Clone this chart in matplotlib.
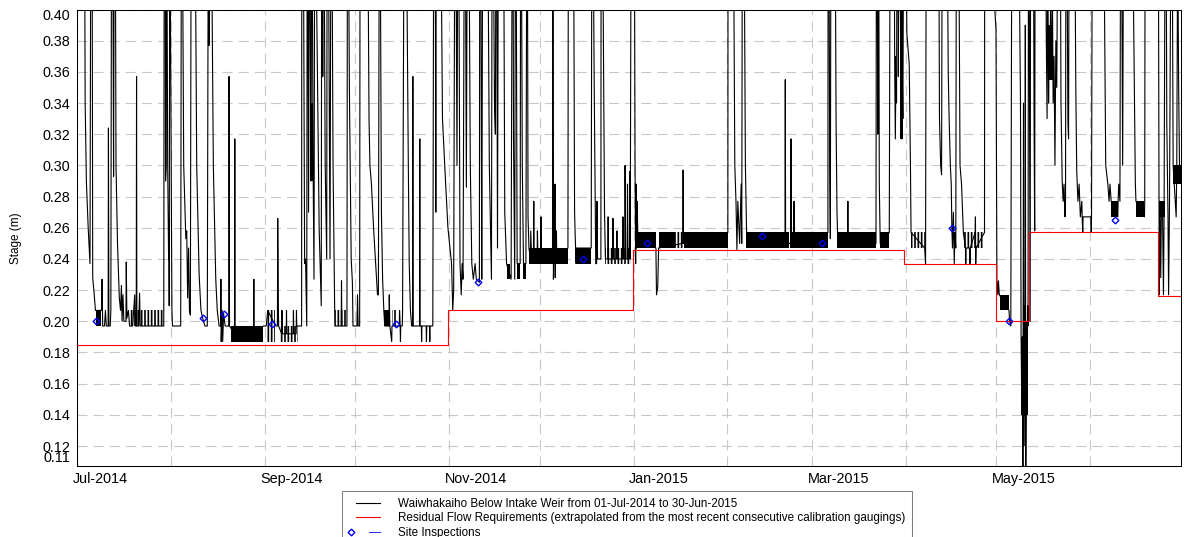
import numpy as np
import pandas as pd
import matplotlib
matplotlib.use('Agg')
import matplotlib.pyplot as plt
import matplotlib.dates as mdates
import matplotlib.transforms as mtransforms
from matplotlib.lines import Line2D
from matplotlib.legend_handler import HandlerBase

plt.rcParams['font.family'] = ['Liberation Sans', 'DejaVu Sans']
plt.rcParams['hatch.linewidth'] = 1.2

START = pd.Timestamp('2014-07-01')

# Stage record, (days since 01-Jul-2014, stage m), one list per month.
# Values above 0.40 are off the chart (flood peaks).
stage_jul = [
    (0.0, 0.55), (1.2, 0.62), (2.3, 0.52), (2.6, 0.34), (3.0, 0.29), (3.6, 0.26), (4.2, 0.237),
    (4.5, 0.50), (4.9, 0.45), (5.1, 0.228), (5.6, 0.217), (6.0, 0.207), (8.0, 0.207),
    (8.2, 0.227), (8.4, 0.197), (9.0, 0.197), (9.3, 0.207), (9.6, 0.197), (10.2, 0.197), (10.3, 0.324),
    (10.45, 0.197), (10.9, 0.197), (11.1, 0.207), (11.4, 0.55), (11.7, 0.48), (12.0, 0.293), (12.2, 0.45),
    (12.5, 0.52), (12.8, 0.30), (13.3, 0.25), (13.9, 0.215), (14.3, 0.207), (14.6, 0.223), (14.8, 0.200),
    (15.1, 0.217), (15.4, 0.200), (16.1, 0.200), (16.2, 0.238), (16.4, 0.202), (16.9, 0.207), (17.3, 0.197),
    (18.3, 0.197), (19.0, 0.217), (19.2, 0.197), (19.5, 0.197), (19.6, 0.357), (19.7, 0.197), (20.3, 0.197),
    (20.6, 0.218), (20.8, 0.197), (28.6, 0.197), (28.8, 0.55), (29.1, 0.45), (29.2, 0.29), (29.4, 0.30),
    (29.5, 0.52), (29.9, 0.30), (30.2, 0.24), (30.3, 0.266), (30.4, 0.21), (30.6, 0.48),
]
stage_aug = [
    (31.3, 0.207), (31.5, 0.197), (34.2, 0.197), (34.5, 0.55), (35.2, 0.30), (35.9, 0.253), (36.2, 0.258),
    (36.5, 0.215), (36.8, 0.247), (37.1, 0.207), (37.4, 0.204), (37.8, 0.60), (38.3, 0.47), (38.7, 0.55),
    (39.5, 0.30), (40.3, 0.23), (40.9, 0.207), (41.5, 0.202), (42.2, 0.197), (43.0, 0.197), (43.4, 0.52),
    (43.6, 0.377), (43.8, 0.50), (44.4, 0.45), (45.0, 0.30), (45.8, 0.227), (46.3, 0.207), (46.9, 0.197),
    (47.4, 0.197), (47.5, 0.227), (47.6, 0.187), (47.9, 0.207), (48.1, 0.187), (48.4, 0.205), (48.9, 0.197),
    (50.1, 0.197), (50.2, 0.357), (50.35, 0.197), (52.0, 0.192), (52.1, 0.317), (52.2, 0.192),
    (58.3, 0.192), (58.4, 0.227), (58.5, 0.19), (61.5, 0.197),
]
stage_sep = [
    (62.5, 0.197), (63.0, 0.207), (65.6, 0.197), (66.2, 0.197), (66.3, 0.266), (66.5, 0.21), (66.6, 0.197),
    (67.6, 0.192), (67.7, 0.207), (67.8, 0.192), (69.1, 0.192), (69.2, 0.207), (69.3, 0.192), (71.4, 0.192),
    (71.5, 0.207), (71.6, 0.192), (72.4, 0.192), (72.5, 0.207), (72.6, 0.197), (74.2, 0.197), (74.3, 0.60),
    (74.8, 0.45), (75.2, 0.237), (75.5, 0.24), (75.8, 0.21), (75.9, 0.197), (76.1, 0.55), (76.5, 0.27),
    (76.8, 0.50), (77.3, 0.29), (77.6, 0.50), (78.0, 0.30), (78.3, 0.227), (78.6, 0.55), (79.2, 0.40),
    (80.0, 0.26), (80.7, 0.21), (80.9, 0.55), (81.2, 0.357), (81.4, 0.55), (82.0, 0.30), (82.5, 0.24),
    (82.7, 0.55), (83.2, 0.40), (83.6, 0.24), (84.0, 0.55), (84.6, 0.30), (85.0, 0.227), (85.2, 0.197),
    (87.3, 0.197), (87.4, 0.226), (87.5, 0.197), (89.2, 0.197), (89.4, 0.55), (90.0, 0.35), (90.6, 0.24),
    (91.0, 0.225), (91.2, 0.197),
]
stage_oct = [
    (92.5, 0.197), (92.7, 0.217), (92.9, 0.197), (93.4, 0.197), (93.6, 0.58), (94.8, 0.50), (95.8, 0.55),
    (96.5, 0.33), (96.8, 0.30), (97.3, 0.288), (98.0, 0.26), (99.3, 0.217), (99.6, 0.217), (100.0, 0.55),
    (100.6, 0.27), (101.0, 0.227), (101.4, 0.207), (101.7, 0.197), (103.1, 0.197), (103.2, 0.217),
    (103.4, 0.197), (104.0, 0.187), (104.1, 0.197), (106.5, 0.197), (106.6, 0.207), (106.8, 0.197),
    (106.9, 0.187), (107.0, 0.197), (107.5, 0.197), (107.6, 0.207), (108.3, 0.58), (108.9, 0.45),
    (109.5, 0.30), (109.8, 0.237), (110.2, 0.207), (110.6, 0.197), (110.9, 0.197), (111.0, 0.357),
    (111.1, 0.197), (113.2, 0.197), (113.3, 0.317), (113.4, 0.197), (113.8, 0.197), (113.9, 0.187),
    (114.0, 0.197), (115.4, 0.197), (115.5, 0.187), (115.6, 0.197), (116.5, 0.197), (116.6, 0.187),
    (116.7, 0.197), (117.6, 0.197), (118.0, 0.55), (118.4, 0.45), (118.6, 0.27), (118.8, 0.55),
    (119.4, 0.58), (120.3, 0.45), (120.8, 0.33), (121.8, 0.29), (122.6, 0.26), (123.8, 0.237),
    (124.2, 0.207), (124.5, 0.22),
]
stage_nov = [
    (125.0, 0.55), (125.6, 0.30), (126.0, 0.55), (126.6, 0.237), (127.0, 0.217), (127.3, 0.237),
    (127.6, 0.227), (128.2, 0.55), (128.7, 0.286), (129.2, 0.58), (130.0, 0.30), (130.5, 0.237),
    (131.0, 0.227), (131.6, 0.237), (132.0, 0.227), (133.0, 0.225), (133.2, 0.58), (133.6, 0.36),
    (133.8, 0.227), (134.2, 0.55), (135.0, 0.40), (135.5, 0.55), (136.3, 0.30), (137.0, 0.227),
    (137.3, 0.55), (138.0, 0.34), (138.3, 0.32), (138.6, 0.55), (139.0, 0.247), (139.4, 0.55),
    (140.2, 0.45), (140.8, 0.58), (141.4, 0.27), (142.0, 0.237), (143.5, 0.227), (144.0, 0.55),
    (144.3, 0.317), (144.7, 0.227), (145.0, 0.55), (145.5, 0.237), (146.5, 0.237), (146.7, 0.55),
    (147.2, 0.30), (147.6, 0.237), (148.4, 0.237), (148.8, 0.55), (149.1, 0.267), (149.4, 0.247),
    (149.9, 0.24), (150.0, 0.258), (150.3, 0.24), (150.9, 0.24), (151.0, 0.277), (151.1, 0.24),
    (152.1, 0.24), (152.2, 0.258), (152.4, 0.24),
]
stage_dec = [
    (153.3, 0.24), (153.4, 0.267), (153.5, 0.24), (157.2, 0.24), (157.3, 0.55), (157.5, 0.227),
    (157.6, 0.237), (157.9, 0.237), (158.0, 0.288), (158.1, 0.228), (158.2, 0.24), (158.4, 0.24),
    (158.5, 0.258), (158.6, 0.24), (162.3, 0.247), (162.5, 0.55), (163.2, 0.45), (164.0, 0.55),
    (164.5, 0.27), (164.7, 0.255), (165.0, 0.237), (165.1, 0.247), (170.0, 0.247), (170.3, 0.55),
    (171.0, 0.35), (171.5, 0.237), (171.8, 0.237), (171.9, 0.277), (172.1, 0.24), (173.2, 0.24),
    (173.3, 0.55), (173.8, 0.45), (174.4, 0.27), (174.7, 0.24), (175.5, 0.24), (175.6, 0.267),
    (175.7, 0.24), (177.1, 0.24), (177.2, 0.266), (177.3, 0.24), (178.4, 0.24), (178.5, 0.258),
    (178.6, 0.24), (180.4, 0.24), (180.5, 0.267), (180.6, 0.24), (181.1, 0.24), (181.2, 0.30),
    (181.4, 0.24), (181.9, 0.24), (182.0, 0.288), (182.1, 0.24), (182.6, 0.24), (182.7, 0.296),
    (182.9, 0.24), (183.3, 0.55), (183.8, 0.58),
]
stage_jan = [
    (184.3, 0.45), (184.5, 0.30), (184.7, 0.237), (184.8, 0.288), (185.0, 0.247), (185.2, 0.277),
    (185.4, 0.257), (191.4, 0.247), (191.6, 0.217), (192.0, 0.222), (192.3, 0.247), (200.3, 0.25),
    (200.4, 0.297), (200.5, 0.25), (215.2, 0.257),
]
stage_feb = [
    (215.3, 0.58), (216.2, 0.45), (216.8, 0.55), (217.5, 0.30), (217.9, 0.276), (218.2, 0.246),
    (218.5, 0.277), (219.1, 0.25), (219.6, 0.288), (219.8, 0.25), (220.1, 0.58), (220.6, 0.45),
    (221.0, 0.30), (221.4, 0.257), (234.1, 0.25), (234.2, 0.355), (234.3, 0.25), (236.0, 0.25),
    (236.1, 0.317), (236.2, 0.25), (237.0, 0.25), (237.1, 0.277), (237.2, 0.25), (248.3, 0.257),
    (248.4, 0.60), (248.9, 0.30), (249.1, 0.253), (249.4, 0.58), (250.5, 0.55), (251.0, 0.328),
    (251.3, 0.27), (251.6, 0.25),
]
stage_mar = [
    (254.8, 0.25), (254.9, 0.277), (255.0, 0.25), (264.2, 0.25), (264.4, 0.55), (264.8, 0.32),
    (265.0, 0.55), (265.3, 0.288), (265.6, 0.25), (268.6, 0.257), (269.0, 0.55), (269.6, 0.40),
    (270.0, 0.58), (270.4, 0.36), (270.6, 0.317), (270.8, 0.36), (271.0, 0.34), (271.3, 0.55),
    (271.6, 0.357), (272.0, 0.55), (272.3, 0.40), (272.6, 0.317), (272.9, 0.36), (273.1, 0.33),
    (273.5, 0.55),
]
stage_apr = [
    (274.2, 0.45), (274.4, 0.385), (274.8, 0.375), (275.2, 0.365), (275.6, 0.30), (275.8, 0.257),
    (280.3, 0.247), (280.6, 0.237), (280.9, 0.55), (281.5, 0.60), (282.4, 0.58), (283.0, 0.45),
    (285.0, 0.45), (285.2, 0.33), (285.6, 0.30), (285.9, 0.294), (286.2, 0.55), (287.0, 0.58),
    (287.8, 0.45), (288.1, 0.36), (288.4, 0.33), (288.8, 0.30), (289.1, 0.288), (289.3, 0.26),
    (289.5, 0.247), (289.8, 0.27), (290.1, 0.237), (290.3, 0.257), (290.6, 0.247), (290.9, 0.58),
    (291.6, 0.45), (292.0, 0.30), (292.5, 0.288), (292.9, 0.268), (293.1, 0.257), (293.8, 0.247),
    (293.9, 0.237), (294.0, 0.247), (295.2, 0.247), (295.3, 0.237), (295.4, 0.247), (297.0, 0.257),
    (297.1, 0.267), (297.2, 0.237), (297.3, 0.247), (300.1, 0.257), (300.2, 0.58), (301.0, 0.50),
    (302.5, 0.58), (303.5, 0.40),
]
stage_may = [
    (303.9, 0.387), (304.2, 0.226), (304.5, 0.217), (304.7, 0.226), (305.0, 0.217), (308.2, 0.207),
    (308.4, 0.200), (308.8, 0.197), (309.3, 0.60), (310.5, 0.55), (311.5, 0.45), (312.0, 0.34),
    (312.2, 0.19), (312.35, 0.16), (312.5, 0.14), (312.65, 0.19), (312.8, 0.10), (313.0, 0.34),
    (313.1, 0.12), (313.3, 0.21), (313.45, 0.14), (313.6, 0.39), (313.75, 0.10), (313.9, 0.16),
    (314.05, 0.20), (314.2, 0.14), (314.35, 0.21), (314.5, 0.197), (314.7, 0.55), (315.0, 0.33),
    (315.2, 0.20), (315.4, 0.55), (316.3, 0.45), (316.5, 0.327), (316.7, 0.258), (316.9, 0.55),
    (317.8, 0.60), (319.0, 0.50), (320.3, 0.55), (320.5, 0.39), (320.8, 0.33), (321.0, 0.45),
    (321.3, 0.34), (321.5, 0.38), (321.8, 0.36), (322.0, 0.42), (322.3, 0.355), (322.6, 0.40),
    (322.8, 0.34), (323.1, 0.37), (323.4, 0.30), (323.7, 0.38), (324.0, 0.35), (324.3, 0.45),
    (325.0, 0.55), (325.4, 0.34), (325.8, 0.29), (326.1, 0.277), (326.4, 0.288), (326.7, 0.267),
    (326.9, 0.277), (327.1, 0.55), (327.7, 0.327), (327.9, 0.317), (328.2, 0.55), (329.5, 0.60),
    (330.3, 0.35), (330.6, 0.297), (331.0, 0.277), (331.4, 0.288), (331.8, 0.267), (332.3, 0.277),
    (332.4, 0.267), (332.6, 0.257), (332.7, 0.267), (335.3, 0.267), (335.4, 0.257),
]
stage_jun = [
    (335.5, 0.267), (335.9, 0.58), (336.8, 0.45), (337.5, 0.55), (338.5, 0.40), (339.2, 0.55),
    (340.2, 0.30), (340.9, 0.288), (341.3, 0.277), (341.6, 0.288), (342.0, 0.277), (344.2, 0.267),
    (344.3, 0.277), (344.5, 0.288), (344.9, 0.277), (345.2, 0.55), (345.8, 0.30), (346.3, 0.58),
    (348.0, 0.50), (349.4, 0.40), (350.0, 0.288), (350.2, 0.277), (353.0, 0.267), (353.1, 0.277),
    (353.3, 0.58), (354.5, 0.45), (355.5, 0.55), (356.5, 0.40), (357.2, 0.55), (357.5, 0.55),
    (357.9, 0.217), (358.1, 0.277), (358.4, 0.228), (358.6, 0.27), (359.0, 0.267), (359.3, 0.217),
    (359.5, 0.267), (360.0, 0.55), (360.4, 0.327), (360.8, 0.267), (361.0, 0.217), (361.3, 0.277),
    (362.0, 0.55), (362.5, 0.30), (363.5, 0.267), (363.7, 0.30), (364.0, 0.45), (364.3, 0.355),
    (364.6, 0.30), (365.0, 0.30),
]

# stretches where the logger flickers between two levels: (start day, end day, low, high)
dense_bands = [
    (6.1, 8.0, 0.197, 0.207), (51.0, 61.5, 0.187, 0.197), (77.1, 77.9, 0.29, 0.34),
    (101.5, 103.0, 0.197, 0.207), (142.0, 143.2, 0.227, 0.237), (145.5, 146.5, 0.227, 0.237),
    (147.6, 148.4, 0.227, 0.237), (149.3, 162.3, 0.237, 0.247), (165.1, 170.0, 0.237, 0.247),
    (184.9, 191.4, 0.247, 0.257), (192.4, 197.6, 0.247, 0.257), (200.6, 215.2, 0.247, 0.257),
    (221.3, 235.4, 0.247, 0.257), (235.8, 248.3, 0.247, 0.257), (251.3, 264.2, 0.247, 0.257),
    (265.6, 268.6, 0.247, 0.257), (270.4, 270.9, 0.32, 0.37), (272.0, 273.0, 0.317, 0.40),
    (305.1, 308.2, 0.207, 0.217), (312.3, 312.7, 0.15, 0.19), (313.8, 314.3, 0.14, 0.20),
    (321.0, 322.6, 0.355, 0.39), (342.0, 344.2, 0.267, 0.277), (350.2, 353.0, 0.267, 0.277),
    (358.3, 359.8, 0.267, 0.277), (362.5, 365.0, 0.288, 0.30),
]
comb_bands = [
    (17.4, 28.6, 0.197, 0.207), (62.8, 65.5, 0.187, 0.207), (67.0, 73.0, 0.187, 0.197),
    (85.2, 89.2, 0.197, 0.207), (104.2, 105.8, 0.197, 0.207), (174.7, 183.0, 0.237, 0.247),
    (197.6, 200.6, 0.247, 0.257), (275.7, 280.3, 0.247, 0.257), (293.0, 300.0, 0.247, 0.257),
]

# residual flow requirement steps
rfr_edges = [0.0, 122.6, 183.9, 273.6, 304.0, 314.9, 357.4, 365.0]
rfr_values = [0.185, 0.207, 0.246, 0.237, 0.200, 0.257, 0.216]

# site inspections
insp_day = [6.2, 41.5, 48.4, 64.5, 105.4, 132.5, 167.4, 188.4, 226.4, 246.3, 289.3, 308.3, 343.4]
insp_stage = [0.200, 0.202, 0.205, 0.198, 0.198, 0.225, 0.240, 0.250, 0.255, 0.250, 0.260, 0.200, 0.265]

xtick_dates = ['2014-07-01', '2014-09-01', '2014-11-01', '2015-01-01', '2015-03-01', '2015-05-01']
xtick_labels = ['Jul-2014', 'Sep-2014', 'Nov-2014', 'Jan-2015', 'Mar-2015', 'May-2015']
ytick_values = [0.11, 0.12, 0.14, 0.16, 0.18, 0.20, 0.22, 0.24, 0.26, 0.28, 0.30, 0.32, 0.34, 0.36, 0.38, 0.40]

legend_labels = [
    'Waiwhakaiho Below Intake Weir from 01-Jul-2014 to 30-Jun-2015',
    'Residual Flow Requirements (extrapolated from the most recent consecutive calibration gaugings)',
    'Site Inspections',
]


def to_num(days):
    return mdates.date2num(START + pd.to_timedelta(np.asarray(days, dtype=float), unit='D'))


class OffsetHandler(HandlerBase):
    """legend entry: short line at the right of the box, optional marker at the left"""

    def __init__(self, line_from, marker_at=None):
        super().__init__()
        self.line_from = line_from
        self.marker_at = marker_at

    def create_artists(self, legend, orig_handle, xdescent, ydescent, width, height, fontsize, trans):
        y = height / 2 - ydescent
        line = Line2D([-xdescent + self.line_from * width, -xdescent + width], [y, y],
                      color=orig_handle.get_color(), lw=orig_handle.get_linewidth(), transform=trans)
        artists = [line]
        if self.marker_at is not None:
            mk = Line2D([-xdescent + self.marker_at * width], [y], ls='none',
                        marker=orig_handle.get_marker(), ms=orig_handle.get_markersize(),
                        mec=orig_handle.get_markeredgecolor(), mfc='none',
                        mew=orig_handle.get_markeredgewidth(), transform=trans)
            artists.append(mk)
        return artists


fig = plt.figure(figsize=(11.84, 5.37), dpi=100)
ax = fig.add_axes([77.3 / 1184, 1 - 466 / 537, (1180.7 - 77.3) / 1184, (466 - 9.5) / 537])

points = stage_jul + stage_aug + stage_sep + stage_oct + stage_nov + stage_dec + \
    stage_jan + stage_feb + stage_mar + stage_apr + stage_may + stage_jun
days = [p[0] for p in points]
stage = [p[1] for p in points]
ax.plot(to_num(days), stage, color='black', lw=0.8, zorder=2)

for d0, d1, lo, hi in dense_bands:
    ax.fill_between(to_num([d0, d1]), lo, hi, color='black', lw=0, zorder=2)
for d0, d1, lo, hi in comb_bands:
    ax.fill_between(to_num([d0, d1]), lo, hi, facecolor='none', edgecolor='black',
                    hatch='|||||', lw=0, zorder=2)

ax.step(to_num(rfr_edges), rfr_values + [rfr_values[-1]], where='post', color='red', lw=0.8, zorder=3)
ax.plot(to_num(insp_day), insp_stage, ls='none', marker='D', ms=3.4, mec='blue', mfc='none',
        mew=1.0, zorder=4)

ax.set_xlim(to_num([0, 365]))
ax.set_ylim(0.1072, 0.40)

month_starts = pd.date_range('2014-08-01', '2015-06-01', freq='MS')
ax.set_xticks(mdates.date2num(month_starts), minor=True)
ax.set_xticks(mdates.date2num(pd.to_datetime(xtick_dates)))
ax.set_xticklabels(xtick_labels)
ax.set_yticks(ytick_values)
ax.set_yticklabels(['%.2f' % v for v in ytick_values])

grid_kw = dict(color='#c8c8c8', lw=0.8, ls=(0, (9, 5.5)))
ax.grid(True, which='both', axis='x', **grid_kw)
ax.grid(True, which='major', axis='y', **grid_kw)
ax.yaxis.get_major_ticks()[0].gridline.set_visible(False)

ax.tick_params(axis='both', which='both', length=0, labelsize=10.4)
ax.tick_params(axis='x', pad=4)
ax.tick_params(axis='y', pad=5.3)

shift = mtransforms.ScaledTranslation(-4.5 / 100, 0, fig.dpi_scale_trans)
for lab in ax.get_xticklabels():
    lab.set_ha('left')
    lab.set_transform(lab.get_transform() + shift)
ylabs = ax.get_yticklabels()
ylabs[0].set_va('baseline')
ylabs[-1].set_va('top')

for sp in ax.spines.values():
    sp.set_linewidth(0.75)
    sp.set_color('black')

ax.set_ylabel('Stage (m)', fontsize=8.5)
ax.yaxis.set_label_coords(-0.050, 0.5)

h_stage = Line2D([], [], color='black', lw=0.8)
h_rfr = Line2D([], [], color='red', lw=0.8)
h_insp = Line2D([], [], color='blue', lw=0.6, marker='D', ms=3.4, mec='blue', mew=1.0)
leg = fig.legend([h_stage, h_rfr, h_insp], legend_labels, loc='upper left',
                 bbox_to_anchor=(341.7 / 1184, 1 - 491 / 537), bbox_transform=fig.transFigure,
                 borderaxespad=0, fontsize=8.4, handlelength=2.68, handletextpad=1.54,
                 borderpad=0.6, labelspacing=0.2, fancybox=False, framealpha=1,
                 edgecolor='#7f7f7f',
                 handler_map={h_stage: OffsetHandler(0.23), h_rfr: OffsetHandler(0.23),
                              h_insp: OffsetHandler(0.65, marker_at=0.06)})
leg.get_frame().set_linewidth(0.75)

fig.savefig('out.png', dpi=100)
